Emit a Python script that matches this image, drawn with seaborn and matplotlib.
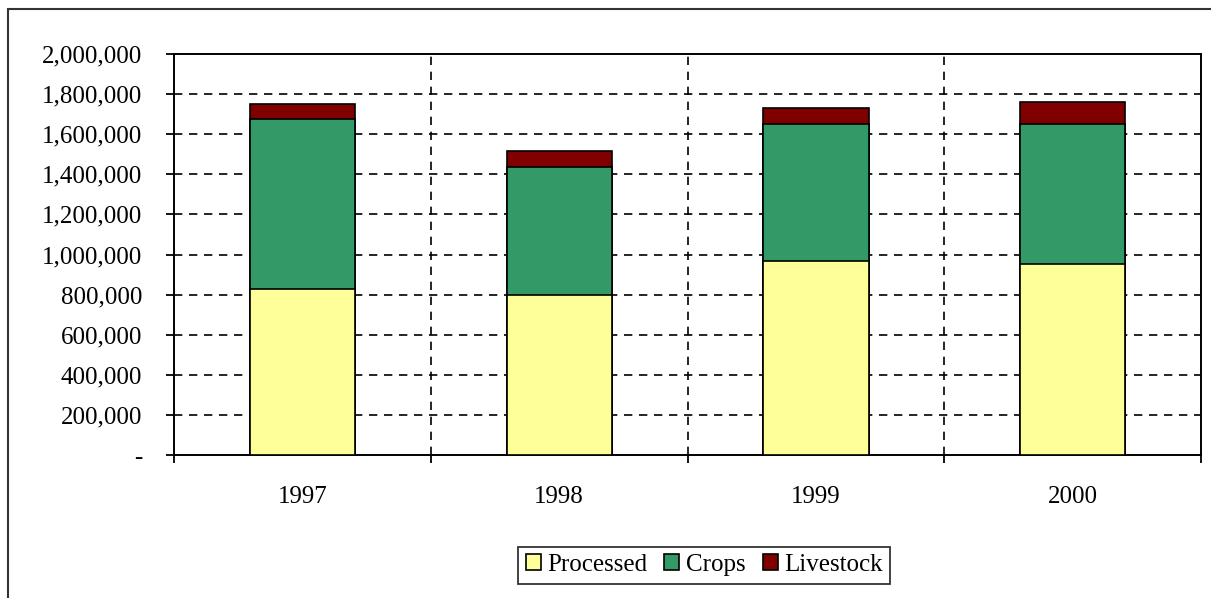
import pandas as pd
import matplotlib.pyplot as plt
import matplotlib.ticker as mticker
from matplotlib.patches import Rectangle
import seaborn as sns

years = ['1997', '1998', '1999', '2000']
processed = [829000, 800000, 969000, 951000]
crops = [845000, 638000, 683000, 701000]
livestock = [77000, 78000, 77000, 110000]

series_names = ['Processed', 'Crops', 'Livestock']
colors = ['#FFFF99', '#339966', '#800000']

sns.set_style('white')
plt.rcParams['font.family'] = ['Liberation Serif', 'DejaVu Serif']
plt.rcParams['font.size'] = 18
plt.rcParams['text.color'] = 'black'
plt.rcParams['xtick.color'] = 'black'
plt.rcParams['ytick.color'] = 'black'


def main():
    df = pd.DataFrame({'year': years, 'Processed': processed,
                       'Crops': crops, 'Livestock': livestock})
    # cumulative heights, drawn tallest first so each layer sits on top
    df['cum_Processed'] = df['Processed']
    df['cum_Crops'] = df['cum_Processed'] + df['Crops']
    df['cum_Livestock'] = df['cum_Crops'] + df['Livestock']

    fig = plt.figure(figsize=(12.11, 5.98), dpi=100)
    ax = fig.add_axes([0.1437, 0.2391, 0.8481, 0.6706])

    for name, color in zip(series_names[::-1], colors[::-1]):
        sns.barplot(data=df, x='year', y='cum_' + name, color=color,
                    width=0.41, edgecolor='black', linewidth=1.2,
                    saturation=1, ax=ax, label=name, zorder=3)
    if ax.get_legend() is not None:
        ax.get_legend().remove()

    ax.set_xlim(-0.5, 3.5)
    ax.set_ylim(0, 2000000)
    ax.set_xlabel('')
    ax.set_ylabel('')

    # y axis
    ax.yaxis.set_major_locator(mticker.MultipleLocator(200000))
    ax.yaxis.set_major_formatter(mticker.FuncFormatter(
        lambda v, p: '-' if v == 0 else f'{int(v):,}'))
    ax.tick_params(axis='y', direction='out', length=6, width=1.3,
                   pad=17, labelsize=18, left=True, colors='black')

    # x axis: ticks on category boundaries, labels centred
    ax.set_xticks([-0.5, 0.5, 1.5, 2.5, 3.5])
    ax.set_xticklabels([])
    ax.set_xticks(range(len(years)), minor=True)
    ax.set_xticklabels(years, minor=True)
    ax.tick_params(axis='x', which='major', direction='out', length=6,
                   width=1.3, bottom=True, colors='black')
    ax.tick_params(axis='x', which='minor', length=0, pad=22, labelsize=18,
                   colors='black')

    for y in range(200000, 2000000, 200000):
        ax.axhline(y, color='black', linestyle=(0, (5, 4)), linewidth=1.2,
                   zorder=1)
    for x in [0.5, 1.5, 2.5]:
        ax.axvline(x, color='black', linestyle=(0, (5, 4)), linewidth=1.2,
                   zorder=1)

    for s in ax.spines.values():
        s.set_visible(True)
        s.set_color('black')
        s.set_linewidth(1.4)

    handles, labels = ax.get_legend_handles_labels()
    order = [labels.index(n) for n in series_names]
    leg = fig.legend([handles[i] for i in order], series_names,
                     loc='center', bbox_to_anchor=(704 / 1211, 1 - 565 / 598),
                     ncol=3, frameon=True, fancybox=False, fontsize=18,
                     handlelength=0.6, handleheight=0.6, handletextpad=0.25,
                     columnspacing=0.7, borderpad=0.3, borderaxespad=0)
    leg.get_frame().set_edgecolor('black')
    leg.get_frame().set_linewidth(1.3)

    # outer chart border (runs off the right and bottom edge)
    fig.patches.append(Rectangle((8 / 1211, -0.05), 1.1, 1 - 9 / 598 + 0.05,
                                 transform=fig.transFigure, fill=False,
                                 edgecolor='#333333', linewidth=1.5))

    fig.savefig('out.png', dpi=100)


if __name__ == '__main__':
    main()
